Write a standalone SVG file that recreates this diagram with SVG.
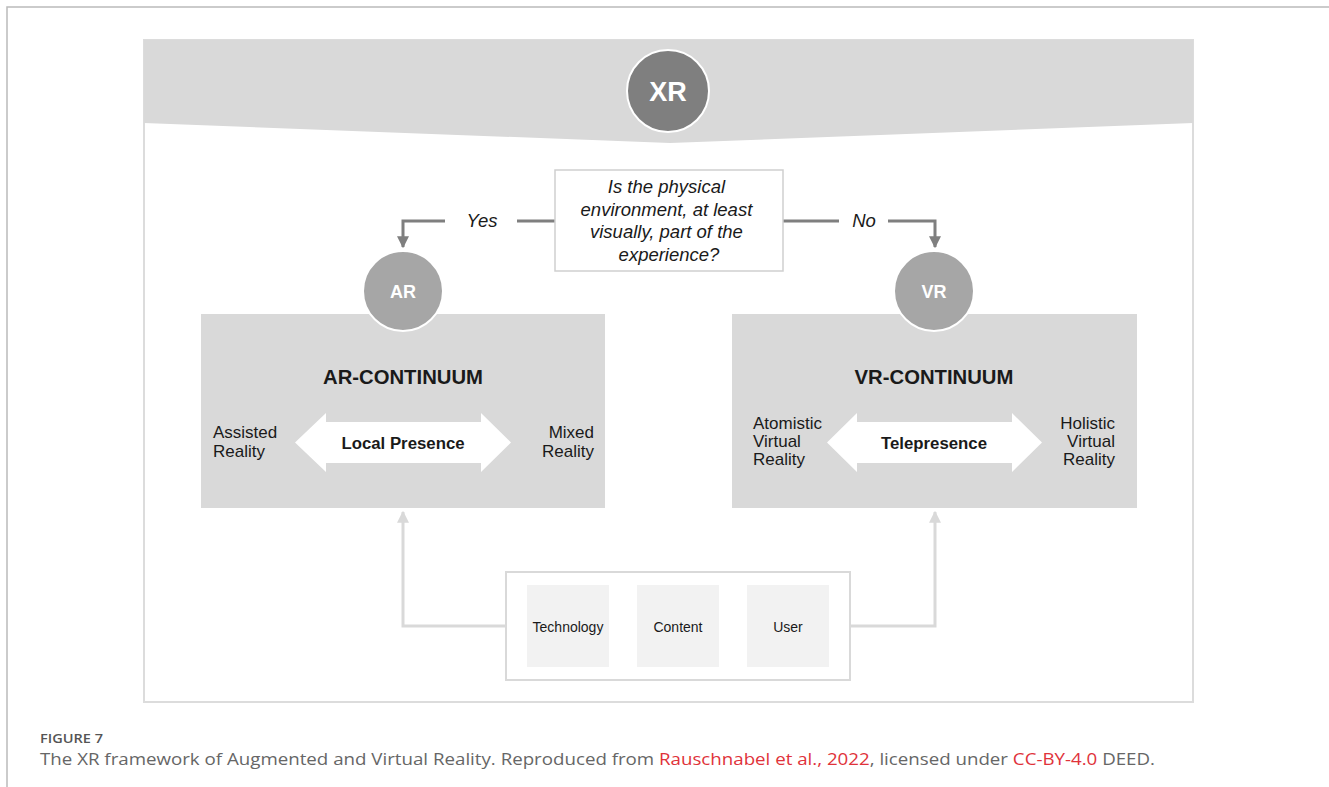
<svg xmlns="http://www.w3.org/2000/svg" width="1329" height="787" viewBox="0 0 1329 787">
<defs>
<style>
.t{font-family:"Liberation Sans",Arial,sans-serif;fill:#1a1a1a}
.b{font-weight:bold}
.box{fill:#d9d9d9}
.tile{fill:#f2f2f2}
.dk{stroke:#7f7f7f;stroke-width:3;fill:none}
.lt{stroke:#d9d9d9;stroke-width:3;fill:none}
.cap{font-family:"Open Sans",sans-serif;fill:#666}
.red{fill:#e0323a}
</style>
<marker id="ad" viewBox="0 0 10 10" refX="9" refY="5" markerWidth="4" markerHeight="4" orient="auto"><path d="M0,0 L10,5 L0,10 z" fill="#7f7f7f"/></marker>
<marker id="al" viewBox="0 0 10 10" refX="9" refY="5" markerWidth="4" markerHeight="4" orient="auto"><path d="M0,0 L10,5 L0,10 z" fill="#d9d9d9"/></marker>
</defs>
<rect width="1329" height="787" fill="#fff"/>
<path d="M7,787 V7 H1329" fill="none" stroke="#bbb" stroke-width="1.5"/>
<g id="frame">
<rect x="144" y="40" width="1049" height="662" fill="#fff" stroke="#dcdcdc" stroke-width="2"/>
<path d="M144,40 H1193 V123 L670,143 L144,123 z" fill="#d9d9d9"/>
</g>
<g id="xr">
<circle cx="668" cy="91" r="41" fill="#7f7f7f" stroke="#fff" stroke-width="2"/>
<text class="t b" x="668" y="101" font-size="27" text-anchor="middle" style="fill:#fff">XR</text>
</g>
<g id="connectors">
<path class="dk" d="M555,221 H517 M445,221 H403 V247" marker-end="url(#ad)"/>
<path class="dk" d="M783,221 H839 M888,221 H935 V247" marker-end="url(#ad)"/>
<path class="lt" d="M506,626 H403 V512" marker-end="url(#al)"/>
<path class="lt" d="M850,626 H935 V512" marker-end="url(#al)"/>
<text class="t" x="482" y="227" font-size="18.5" font-style="italic" text-anchor="middle">Yes</text>
<text class="t" x="864" y="227" font-size="18.5" font-style="italic" text-anchor="middle">No</text>
</g>
<g id="question">
<rect x="555" y="170" width="228" height="101" fill="#fff" stroke="#cfcfcf" stroke-width="1.5"/>
<text class="t" font-size="18.5" font-style="italic" text-anchor="middle">
<tspan x="669" y="193">Is the physical</tspan>
<tspan x="669" y="216">environment, at least</tspan>
<tspan x="669" y="238">visually, part of the</tspan>
<tspan x="669" y="261">experience?</tspan>
</text>
</g>
<g id="ar-continuum">
<rect class="box" x="201" y="314" width="404" height="194"/>
<text class="t b" x="403" y="384" font-size="20.3" text-anchor="middle">AR-CONTINUUM</text>
<path d="M295,442.5 L326,413 V422 H481 V413 L511,442.5 L481,472 V463 H326 V472 z" fill="#fff"/>
<text class="t b" x="403" y="449" font-size="16.8" text-anchor="middle">Local Presence</text>
<text class="t" font-size="17"><tspan x="213" y="438">Assisted</tspan><tspan x="213" y="457">Reality</tspan></text>
<text class="t" font-size="17" text-anchor="end"><tspan x="594" y="438">Mixed</tspan><tspan x="594" y="457">Reality</tspan></text>
</g>
<g id="ar">
<circle cx="403" cy="291" r="40" fill="#a6a6a6" stroke="#fff" stroke-width="2"/>
<text class="t b" x="403" y="298" font-size="18" text-anchor="middle" style="fill:#fff">AR</text>
</g>
<g id="vr-continuum">
<rect class="box" x="732" y="314" width="405" height="194"/>
<text class="t b" x="934" y="384" font-size="20.3" text-anchor="middle">VR-CONTINUUM</text>
<path d="M827,442.5 L857,413 V422 H1012 V413 L1042,442.5 L1012,472 V463 H857 V472 z" fill="#fff"/>
<text class="t b" x="934" y="449" font-size="16.8" text-anchor="middle">Telepresence</text>
<text class="t" font-size="17"><tspan x="753" y="429">Atomistic</tspan><tspan x="753" y="447">Virtual</tspan><tspan x="753" y="465">Reality</tspan></text>
<text class="t" font-size="17" text-anchor="end"><tspan x="1115" y="429">Holistic</tspan><tspan x="1115" y="447">Virtual</tspan><tspan x="1115" y="465">Reality</tspan></text>
</g>
<g id="vr">
<circle cx="934" cy="291" r="40" fill="#a6a6a6" stroke="#fff" stroke-width="2"/>
<text class="t b" x="934" y="298" font-size="18" text-anchor="middle" style="fill:#fff">VR</text>
</g>
<g id="factors">
<rect x="506" y="572" width="344" height="108" fill="#fff" stroke="#d9d9d9" stroke-width="2"/>
</g>
<g id="technology">
<rect class="tile" x="527" y="585" width="82" height="82"/>
<text class="t" x="568" y="632" font-size="14" text-anchor="middle">Technology</text>
</g>
<g id="content">
<rect class="tile" x="637" y="585" width="82" height="82"/>
<text class="t" x="678" y="632" font-size="14" text-anchor="middle">Content</text>
</g>
<g id="user">
<rect class="tile" x="747" y="585" width="82" height="82"/>
<text class="t" x="788" y="632" font-size="14" text-anchor="middle">User</text>
</g>
<g id="caption">
<text class="cap" x="40" y="743" font-size="12" font-weight="600" textLength="63" lengthAdjust="spacingAndGlyphs" style="fill:#555">FIGURE 7</text>
<text class="cap" x="40" y="765" font-size="16" textLength="1115" lengthAdjust="spacingAndGlyphs">The XR framework of Augmented and Virtual Reality. Reproduced from <tspan class="red">Rauschnabel et al., 2022</tspan>, licensed under <tspan class="red">CC-BY-4.0</tspan> DEED.</text>
</g>
</svg>
